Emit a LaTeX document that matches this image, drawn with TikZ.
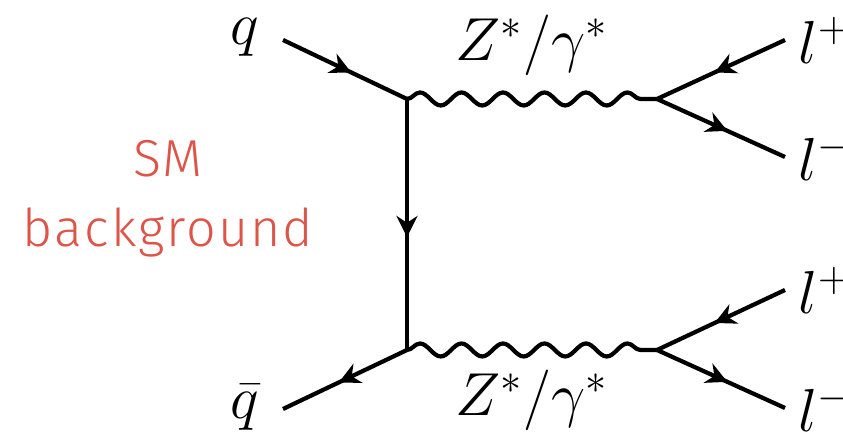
\documentclass[tikz,border=0pt]{standalone}
\usepackage{amsmath,amssymb}
\usepackage{fontspec}
\newfontfamily\smfont{Fira Sans Light}[LetterSpace=4]
\usetikzlibrary{arrows.meta,decorations.pathmorphing,decorations.markings,positioning}
\definecolor{smred}{RGB}{221,84,72}

\begin{document}
\begin{tikzpicture}[>=Stealth, line width=1.2pt, every node/.style={font=\LARGE},
  fermion/.style={postaction={decorate}, decoration={markings,
      mark=at position 0.55 with {\arrow{Stealth[length=6pt,width=6pt]}}}},
  boson/.style={decorate, decoration={snake, amplitude=0.65mm, segment length=4.15mm}}]

  \useasboundingbox (0,0) rectangle (8.43,4.37);

  % Vertices
  \coordinate (v1) at (4.07,3.38);
  \coordinate (v2) at (6.57,3.38);
  \coordinate (v3) at (4.07,0.87);
  \coordinate (v4) at (6.57,0.87);

  % Incoming quarks
  \coordinate (qin) at (2.83,3.97);
  \coordinate (qbin) at (2.83,0.28);
  \node (q) at (2.45,4.00) {$q$};
  \node (qbar) at (2.45,0.30) {$\bar{q}$};

  % Outgoing leptons
  \coordinate (l1) at (7.85,3.97);
  \coordinate (l2) at (7.85,2.80);
  \coordinate (l3) at (7.85,1.47);
  \coordinate (l4) at (7.85,0.29);
  \node[right] (lp1) at (l1) {$l^+$};
  \node[right] (lm1) at (l2) {$l^-$};
  \node[right] (lp2) at (l3) {$l^+$};
  \node[right] (lm2) at (l4) {$l^-$};

  % Quark lines
  \draw[fermion] (qin) -- (v1);
  \draw[fermion] (v1) -- (v3);
  \draw[fermion] (v3) -- (qbin);

  % Z / photon lines
  \draw[boson] (v1) -- (v2);
  \draw[boson] (v3) -- (v4);
  \node (z1) at (5.32,3.92) {$Z^*/\gamma^*$};
  \node (z2) at (5.32,0.37) {$Z^*/\gamma^*$};

  % Lepton pairs
  \draw[fermion] (l1) -- (v2);
  \draw[fermion] (v2) -- (l2);
  \draw[fermion] (l3) -- (v4);
  \draw[fermion] (v4) -- (l4);

  % Label
  \node[smred, align=center, font=\smfont\fontsize{14.8}{20}\selectfont] (sm) at (1.68,2.38) {SM\\background};
\end{tikzpicture}
\end{document}
